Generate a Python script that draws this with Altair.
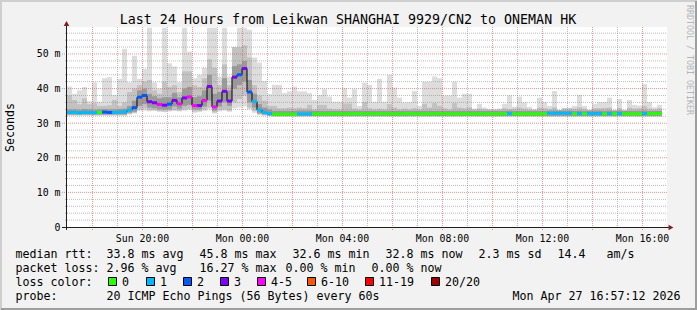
import altair as alt
import pandas as pd

FONT = "DejaVu Sans Mono"

# ---------------- data ----------------
# one sample per 12 minutes, starting Sun 17:00 (hour 0 of the 24h window)
median = [
    33.1, 33.1, 33.0, 33.1, 33.1, 33.0, 33.1, 33.2, 33.1, 33.1,
    33.2, 33.2, 33.8, 34.5, 37.5, 38.0, 36.2, 35.9, 35.4, 35.2,
    35.5, 36.6, 35.6, 37.3, 37.6, 35.1, 35.1, 36.6, 40.6, 34.7,
    36.4, 39.2, 36.4, 43.3, 44.0, 45.8, 39.0, 36.3, 33.8, 33.1,
    32.8, 32.6, 32.6, 32.6, 32.6, 32.6, 32.7, 32.7, 32.7, 32.7,
    32.7, 32.7, 32.7, 32.8, 32.7, 32.7, 32.7, 32.8, 32.7, 32.7,
    32.7, 32.7, 32.8, 32.7, 32.7, 32.7, 32.7, 32.7, 32.8, 32.7,
    32.7, 32.7, 32.7, 32.7, 32.8, 32.7, 32.7, 32.7, 32.7, 32.7,
    32.7, 32.7, 32.7, 32.7, 32.7, 32.7, 32.7, 32.7, 32.8, 32.7,
    32.7, 32.7, 32.7, 32.7, 32.7, 32.7, 32.9, 32.9, 32.9, 32.9,
    32.9, 32.7, 32.8, 32.7, 32.8, 32.8, 32.8, 32.7, 32.8, 32.7,
    32.8, 32.7, 32.7, 32.7, 32.7, 32.8, 32.7, 32.8, 32.8,
]
# loss class index into loss_labels
loss = [
    1, 1, 1, 1, 1, 1, 0, 2, 2, 1,
    1, 1, 1, 2, 2, 2, 3, 3, 4, 3,
    2, 3, 4, 3, 4, 4, 3, 4, 3, 4,
    3, 3, 3, 3, 2, 3, 2, 1, 1, 1,
    1, 0, 0, 0, 0, 0, 1, 1, 1, 0,
    0, 0, 0, 0, 0, 0, 0, 0, 0, 0,
    0, 0, 0, 0, 0, 0, 0, 0, 0, 0,
    0, 0, 0, 0, 0, 0, 0, 0, 0, 0,
    0, 0, 0, 0, 0, 0, 0, 0, 1, 0,
    0, 0, 0, 0, 0, 0, 1, 1, 1, 1,
    1, 0, 1, 0, 1, 1, 1, 0, 1, 0,
    1, 0, 0, 0, 0, 1, 0, 0, 0,
]
smoke_max = [
    40.6, 38.5, 39.5, 40.5, 36.3, 41.8, 36.2, 43.0, 43.3, 38.2,
    42.8, 51.5, 41.8, 49.5, 42.8, 45.7, 57.6, 41.8, 40.0, 57.6,
    47.3, 46.4, 41.8, 57.6, 50.7, 43.0, 44.0, 46.0, 57.6, 57.6,
    43.5, 57.6, 43.5, 52.0, 57.6, 57.6, 57.0, 49.0, 47.5, 42.2,
    38.4, 41.1, 41.1, 38.7, 39.2, 40.6, 39.2, 39.2, 38.7, 36.7,
    38.2, 39.8, 37.7, 36.2, 36.2, 40.1, 37.4, 39.8, 35.0, 41.7,
    41.1, 36.2, 42.8, 36.2, 44.0, 40.3, 37.4, 36.0, 36.1, 39.3,
    35.0, 42.0, 42.0, 43.5, 43.0, 38.0, 38.0, 42.0, 37.4, 38.5,
    38.5, 34.2, 35.6, 34.5, 34.1, 34.0, 34.2, 35.6, 38.0, 34.8,
    37.7, 36.0, 34.7, 34.0, 37.4, 36.1, 35.0, 39.3, 33.8, 34.3,
    34.5, 35.0, 38.2, 35.0, 33.8, 35.6, 36.1, 36.1, 37.4, 33.8,
    37.0, 33.8, 36.7, 35.3, 35.1, 41.3, 36.1, 34.6, 35.3,
]
smoke_min = [
    32.2, 32.2, 32.2, 32.2, 32.2, 32.2, 32.2, 32.2, 32.2, 32.2,
    32.2, 32.2, 32.5, 32.8, 33.5, 33.6, 33.4, 33.5, 33.3, 33.2,
    33.4, 33.5, 33.4, 33.6, 33.8, 33.0, 33.2, 33.5, 34.0, 32.8,
    33.4, 33.6, 33.3, 34.3, 34.5, 34.8, 34.0, 33.0, 32.4, 32.2,
    32.0, 31.8, 31.8, 31.8, 31.8, 31.8, 31.8, 31.8, 31.8, 31.8,
    31.8, 31.8, 31.8, 31.8, 31.8, 31.8, 31.8, 31.8, 31.8, 31.8,
    31.8, 31.8, 31.8, 31.8, 31.8, 31.8, 31.8, 31.8, 31.8, 31.8,
    31.8, 31.8, 31.8, 31.8, 31.8, 31.8, 31.8, 31.8, 31.8, 31.8,
    31.8, 31.8, 31.8, 31.8, 31.8, 31.8, 31.8, 31.8, 31.8, 31.8,
    31.8, 31.8, 31.8, 31.8, 31.8, 31.8, 31.8, 31.8, 31.8, 31.8,
    31.8, 31.8, 31.8, 31.8, 31.8, 31.8, 31.8, 31.8, 31.8, 31.8,
    31.8, 31.8, 31.8, 31.8, 31.8, 31.8, 31.8, 31.8, 31.8,
]
smoke2_hi = [
    38.0, 36.7, 35.5, 37.2, 35.5, 35.8, 35.0, 35.0, 35.2, 36.7,
    35.0, 36.0, 39.0, 40.0, 41.0, 42.0, 42.5, 39.5, 38.5, 42.0,
    40.5, 41.0, 39.0, 45.0, 45.0, 41.0, 40.5, 43.0, 48.5, 46.0,
    41.0, 47.0, 41.0, 52.0, 52.0, 52.5, 49.0, 41.0, 38.0, 36.5,
    35.0, 35.0, 34.3, 34.3, 34.5, 34.3, 34.5, 34.3, 35.3, 34.0,
    35.3, 35.3, 34.2, 34.0, 34.0, 35.7, 35.7, 34.2, 34.0, 36.1,
    34.3, 34.0, 34.2, 34.0, 35.5, 34.5, 34.0, 34.2, 34.0, 34.3,
    34.0, 35.6, 34.5, 35.8, 35.0, 34.3, 34.0, 35.8, 34.5, 34.3,
    34.6, 34.0, 34.2, 34.0, 33.9, 33.9, 34.0, 34.3, 34.0, 34.2,
    34.5, 34.2, 34.0, 33.9, 34.5, 34.3, 34.0, 34.6, 33.7, 34.3,
    34.3, 34.2, 34.6, 34.2, 33.7, 34.3, 34.3, 34.4, 34.5, 33.7,
    34.4, 33.7, 34.5, 34.2, 34.3, 35.0, 34.2, 34.0, 34.3,
]
smoke2_lo = [
    32.3, 32.3, 32.3, 32.3, 32.3, 32.3, 32.3, 32.3, 32.3, 32.3,
    32.3, 32.3, 32.7, 33.0, 34.0, 34.3, 33.8, 33.8, 33.5, 33.4,
    33.6, 33.8, 33.6, 34.0, 34.2, 33.4, 33.5, 34.0, 34.5, 33.1,
    33.8, 34.0, 33.6, 36.0, 37.0, 38.0, 34.5, 33.5, 32.6, 32.3,
    32.1, 32.0, 32.0, 32.0, 32.0, 32.0, 32.0, 32.0, 32.0, 32.0,
    32.0, 32.0, 32.0, 32.0, 32.0, 32.0, 32.0, 32.0, 32.0, 32.0,
    32.0, 32.0, 32.0, 32.0, 32.0, 32.0, 32.0, 32.0, 32.0, 32.0,
    32.0, 32.0, 32.0, 32.0, 32.0, 32.0, 32.0, 32.0, 32.0, 32.0,
    32.0, 32.0, 32.0, 32.0, 32.0, 32.0, 32.0, 32.0, 32.0, 32.0,
    32.0, 32.0, 32.0, 32.0, 32.0, 32.0, 32.0, 32.0, 32.0, 32.0,
    32.0, 32.0, 32.0, 32.0, 32.0, 32.0, 32.0, 32.0, 32.0, 32.0,
    32.0, 32.0, 32.0, 32.0, 32.0, 32.0, 32.0, 32.0, 32.0,
]
smoke3_hi = [
    34.0, 34.0, 33.9, 34.1, 34.0, 33.9, 34.0, 34.1, 34.0, 34.0,
    34.1, 34.2, 35.0, 36.5, 39.5, 40.0, 38.5, 37.8, 37.2, 37.5,
    37.5, 38.8, 37.5, 40.0, 40.5, 37.5, 37.8, 39.5, 44.0, 38.5,
    39.0, 43.0, 39.5, 46.5, 47.0, 48.0, 42.5, 38.5, 35.5, 34.5,
    34.0, 33.6, 33.6, 33.6, 33.6, 33.6, 33.7, 33.7, 33.7, 33.6,
    33.6, 33.6, 33.6, 33.6, 33.6, 33.6, 33.6, 33.6, 33.6, 33.6,
    33.6, 33.6, 33.6, 33.6, 33.6, 33.6, 33.6, 33.6, 33.6, 33.6,
    33.6, 33.6, 33.6, 33.6, 33.6, 33.6, 33.6, 33.6, 33.6, 33.6,
    33.6, 33.6, 33.6, 33.6, 33.6, 33.6, 33.6, 33.6, 33.7, 33.6,
    33.6, 33.6, 33.6, 33.6, 33.6, 33.6, 33.7, 33.7, 33.7, 33.7,
    33.7, 33.6, 33.7, 33.6, 33.7, 33.7, 33.7, 33.6, 33.7, 33.6,
    33.7, 33.6, 33.6, 33.6, 33.6, 33.7, 33.6, 33.6, 33.6,
]
smoke3_lo = [
    32.5, 32.5, 32.5, 32.5, 32.5, 32.5, 32.5, 32.5, 32.5, 32.5,
    32.5, 32.5, 33.0, 33.3, 35.0, 35.5, 34.5, 34.3, 34.0, 33.9,
    34.0, 34.8, 34.2, 35.0, 35.3, 34.0, 34.0, 34.8, 36.5, 33.6,
    34.8, 36.0, 35.0, 40.0, 41.0, 42.0, 36.0, 34.5, 32.8, 32.5,
    32.2, 32.1, 32.1, 32.1, 32.1, 32.1, 32.1, 32.1, 32.1, 32.1,
    32.1, 32.1, 32.1, 32.1, 32.1, 32.1, 32.1, 32.1, 32.1, 32.1,
    32.1, 32.1, 32.1, 32.1, 32.1, 32.1, 32.1, 32.1, 32.1, 32.1,
    32.1, 32.1, 32.1, 32.1, 32.1, 32.1, 32.1, 32.1, 32.1, 32.1,
    32.1, 32.1, 32.1, 32.1, 32.1, 32.1, 32.1, 32.1, 32.1, 32.1,
    32.1, 32.1, 32.1, 32.1, 32.1, 32.1, 32.1, 32.1, 32.1, 32.1,
    32.1, 32.1, 32.1, 32.1, 32.1, 32.1, 32.1, 32.1, 32.1, 32.1,
    32.1, 32.1, 32.1, 32.1, 32.1, 32.1, 32.1, 32.1, 32.1,
]

loss_labels = ["0", "1", "2", "3", "4-5", "6-10", "11-19", "20/20"]
loss_colors = ["#26ff00", "#00b8ff", "#0059ff", "#7e00ff", "#ff00ff", "#ff5500", "#ff0000", "#a10000"]

x_label_hours = [3, 7, 11, 15, 19, 23]
x_labels = ["Sun 20:00", "Mon 00:00", "Mon 04:00", "Mon 08:00", "Mon 12:00", "Mon 16:00"]
x_major_grid = [1, 3, 5, 7, 9, 11, 13, 15, 17, 19, 21, 23]
x_minor_grid = [2, 4, 6, 8, 10, 12, 14, 16, 18, 20, 22]
y_label_vals = [0, 10, 20, 30, 40, 50]
y_major_grid = [10, 20, 30, 40, 50]
y_minor_grid = [2, 4, 6, 8, 12, 14, 16, 18, 22, 24, 26, 28, 32, 34, 36, 38,
                42, 44, 46, 48, 52, 54, 56]

title_text = "Last 24 Hours from Leikwan SHANGHAI 9929/CN2 to ONEMAN HK"
legend_rows = [
    (258.3, [(15.5, "median rtt:"), (106.5, "33.8 ms avg"), (199.5, "45.8 ms max"),
             (292.5, "32.6 ms min"), (385.5, "32.8 ms now"), (478.5, "2.3 ms sd"),
             (557.5, "14.4"), (606.5, "am/s")]),
    (272.3, [(15.5, "packet loss:"), (106.5, "2.96 % avg"), (199.5, "16.27 % max"),
             (285.5, "0.00 % min"), (371.5, "0.00 % now")]),
    (286.3, [(15.5, "loss color:")]),
    (300.0, [(15.5, "probe:"), (106.5, "20 ICMP Echo Pings (56 Bytes) every 60s")]),
]
date_text = "Mon Apr 27 16:57:12 2026"

# ---------------- layout ----------------
PW, PH = 697, 310
OX, OY = 67, 27          # plot origin on the page
W, H = 600, 200
Y_TOP = 57.8
STEP_H = 0.2             # 12 minutes in hours

n = len(median)
df = pd.DataFrame({
    "t0": [i * STEP_H for i in range(n)],
    "t1": [(i + 1) * STEP_H for i in range(n)],
    "median": median,
    "loss": [loss_labels[c] for c in loss],
    "mn": smoke_min, "mx": smoke_max,
    "lo2": smoke2_lo, "hi2": smoke2_hi,
    "lo3": smoke3_lo, "hi3": smoke3_hi,
})

xs = alt.Scale(domain=[0, 24], nice=False, zero=False)
ys = alt.Scale(domain=[0, Y_TOP], nice=False, zero=True)

x_expr = " : ".join(f"datum.value == {v} ? '{l}'" for v, l in zip(x_label_hours, x_labels)) + " : ''"
x_axis = alt.Axis(values=x_label_hours, labelExpr=x_expr, title=None, grid=False, ticks=False,
                  domain=False, labelFont=FONT, labelFontSize=9.9, labelColor="black",
                  labelPadding=14, labelBaseline="alphabetic", labelFlush=False,
                  labelOverlap=False)
y_axis = alt.Axis(values=y_label_vals,
                  labelExpr="datum.value == 0 ? '0\u00a0\u00a0' : datum.value + ' m'",
                  title="Seconds", grid=False, ticks=False, domain=False,
                  labelFont=FONT, labelFontSize=9.9, labelColor="black", labelPadding=7,
                  labelBaseline="middle", titleFont=FONT, titleFontSize=11.63,
                  titleFontWeight="normal", titleColor="black", titleX=10 - OX,
                  titleY=127 - OY, titleAngle=270, titleAlign="center",
                  titleBaseline="middle")


def X(f):
    return alt.X(f, type="quantitative", scale=xs, axis=x_axis)


def Y(f):
    return alt.Y(f, type="quantitative", scale=ys, axis=y_axis)


base = alt.Chart(df)
layers = []
# smoke
layers.append(base.mark_rect(color="#dddddd").encode(x=X("t0"), x2="t1:Q", y=Y("mn"), y2="mx:Q"))
layers.append(base.mark_rect(color="#c2c2c2").encode(x=X("t0"), x2="t1:Q", y=Y("lo2"), y2="hi2:Q"))
layers.append(base.mark_rect(color="#9a9a9a").encode(x=X("t0"), x2="t1:Q", y=Y("lo3"), y2="hi3:Q"))

# grid
layers.append(alt.Chart(pd.DataFrame({"v": y_minor_grid})).mark_rule(
    color="#8f8f8f", opacity=0.6, strokeDash=[1, 1], strokeWidth=1).encode(
    y=Y("v"), x=alt.value(-2), x2=alt.value(W)))
layers.append(alt.Chart(pd.DataFrame({"v": x_minor_grid})).mark_rule(
    color="#8f8f8f", opacity=0.6, strokeDash=[1, 1], strokeWidth=1, xOffset=0.5).encode(
    x=X("v"), y=alt.value(0), y2=alt.value(H)))
layers.append(alt.Chart(pd.DataFrame({"v": y_major_grid})).mark_rule(
    color="#de4f4f", opacity=0.6, strokeDash=[1, 1], strokeWidth=1).encode(
    y=Y("v"), x=alt.value(-5), x2=alt.value(W)))
layers.append(alt.Chart(pd.DataFrame({"v": x_major_grid})).mark_rule(
    color="#de4f4f", opacity=0.6, strokeDash=[1, 1], strokeWidth=1, xOffset=0.5).encode(
    x=X("v"), y=alt.value(0), y2=alt.value(H + 3)))

# median: black connector + loss-coloured segments
layers.append(base.mark_line(interpolate="step-after", color="#000000", strokeWidth=1).encode(
    x=X("t0"), y=Y("median")))
layers.append(base.mark_rule(strokeWidth=3, strokeCap="butt").encode(
    x=X("t0"), x2="t1:Q", y=Y("median"),
    color=alt.Color("loss:N", scale=alt.Scale(domain=loss_labels, range=loss_colors), legend=None)))

one = pd.DataFrame({"a": [0]})


def px(x):
    return alt.value(x - OX)


def py(y):
    return alt.value(y - OY)


# axis lines and arrows
layers.append(alt.Chart(one).mark_rule(color="#1f1f1f", strokeWidth=1).encode(
    x=px(66.5), y=py(24), y2=py(230)))
layers.append(alt.Chart(one).mark_rule(color="#1f1f1f", strokeWidth=1).encode(
    x=px(62), x2=px(670), y=py(227.5)))
layers.append(alt.Chart(one).mark_point(shape="triangle-up", filled=True, size=32, color="#801f1f",
                                        opacity=1).encode(x=px(66.5), y=py(23.5)))
layers.append(alt.Chart(one).mark_point(shape="triangle-right", filled=True, size=32, color="#801f1f",
                                        opacity=1).encode(x=px(671), y=py(227.5)))

# frame (3D shade)
layers.append(alt.Chart(one).mark_rule(color="#cfcfcf", strokeWidth=2).encode(
    x=px(0), x2=px(PW), y=py(1)))
layers.append(alt.Chart(one).mark_rule(color="#cfcfcf", strokeWidth=2).encode(
    x=px(1), y=py(0), y2=py(PH)))
layers.append(alt.Chart(one).mark_rule(color="#9e9e9e", strokeWidth=2).encode(
    x=px(1), x2=px(PW), y=py(PH - 1)))
layers.append(alt.Chart(one).mark_rule(color="#9e9e9e", strokeWidth=2).encode(
    x=px(PW - 1), y=py(1), y2=py(PH)))

# texts
layers.append(alt.Chart(one).mark_text(text=title_text, font=FONT, fontSize=13.3, align="center",
                                       baseline="alphabetic", color="black").encode(
    x=px(348), y=py(24)))
layers.append(alt.Chart(one).mark_text(text="RRDTOOL / TOBI OETIKER", font=FONT, fontSize=8.3,
                                       angle=90, align="left", baseline="middle",
                                       color="#b4b4b4").encode(x=px(688.5), y=py(5)))
for yb, segs in legend_rows:
    for xx, s in segs:
        layers.append(alt.Chart(one).mark_text(text=s, font=FONT, fontSize=11.63, align="left",
                                               baseline="alphabetic", color="black").encode(
            x=px(xx), y=py(yb)))
layers.append(alt.Chart(one).mark_text(text=date_text, font=FONT, fontSize=11.63, align="right",
                                       baseline="alphabetic", color="black").encode(
    x=px(680.5), y=py(300.0)))

# loss colour swatches
swatch_left = [108, 146, 183, 220, 257, 307, 365, 431]
for left, lab, col in zip(swatch_left, loss_labels, loss_colors):
    layers.append(alt.Chart(one).mark_rect(fill=col, stroke="black", strokeWidth=1).encode(
        x=px(left + 0.5), x2=px(left + 8.5), y=py(277.5), y2=py(285.5)))
    layers.append(alt.Chart(one).mark_text(text=lab, font=FONT, fontSize=11.63, align="left",
                                           baseline="alphabetic", color="black").encode(
        x=px(left + 14), y=py(286.3)))

chart = alt.layer(*layers).properties(
    width=W, height=H, background="#f2f2f2",
    padding={"left": OX, "top": OY, "right": PW - OX - W, "bottom": PH - OY - H},
    autosize=alt.AutoSizeParams(type="none"),
).configure_view(stroke=None, fill="white")

chart.save("out.html", embed_options={"renderer": "svg", "actions": False})
